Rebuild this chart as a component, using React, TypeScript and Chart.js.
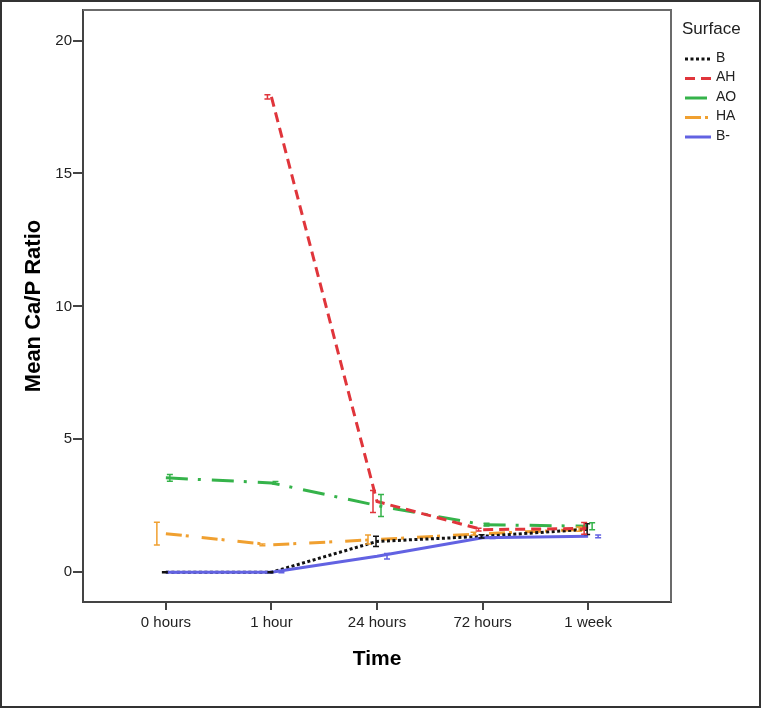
import React, { useEffect, useRef } from "react";
import { Chart, registerables } from "chart.js";

Chart.register(...registerables);

const categories = ["0 hours", "1 hour", "24 hours", "72 hours", "1 week"];
const yTicks = [0, 5, 10, 15, 20];

const seriesNames = ["B", "AH", "AO", "HA", "B-"];
const valuesB = [0, 0, 1.16, 1.35, 1.62];
const errorsB = [0.02, 0.02, 0.19, 0.06, 0.2];
const valuesAH = [null, 17.88, 2.66, 1.6, 1.65];
const errorsAH = [null, 0.08, 0.41, 0.05, 0.22];
const valuesAO = [3.55, 3.36, 2.51, 1.79, 1.73];
const errorsAO = [0.13, 0.05, 0.41, 0.05, 0.13];
const valuesHA = [1.45, 1.03, 1.23, 1.45, 1.62];
const errorsHA = [0.43, 0.03, 0.17, 0.05, 0.08];
const valuesBminus = [0, 0, 0.6, 1.3, 1.35];
const errorsBminus = [0.02, 0.02, 0.1, 0.03, 0.05];

const FONT = "'Liberation Sans', Arial, sans-serif";

const styles = [
  { color: "#111111", dash: [3, 2.5], errOffset: -1, order: 2 },
  { color: "#e0353b", dash: [10, 6], errOffset: -4, order: 1 },
  { color: "#35b34a", dash: [22, 10, 3, 11], errOffset: 4, order: 4 },
  { color: "#f0a030", dash: [16, 4, 3, 13], errOffset: -9, order: 3 },
  { color: "#6262e2", dash: [], errOffset: 10, order: 0 },
];

const allValues = [valuesB, valuesAH, valuesAO, valuesHA, valuesBminus];
const allErrors = [errorsB, errorsAH, errorsAO, errorsHA, errorsBminus];

const errorBarPlugin = {
  id: "errorBars",
  afterDatasetsDraw(chart: any) {
    const ctx = chart.ctx;
    const xs = chart.scales.x;
    const ys = chart.scales.y;
    ctx.save();
    chart.data.datasets.forEach((ds: any) => {
      const errs = ds.errors as (number | null)[];
      ctx.strokeStyle = ds.borderColor;
      ctx.lineWidth = 1.5;
      ctx.setLineDash([]);
      ds.data.forEach((pt: any, i: number) => {
        if (pt.y === null || errs[i] === null) return;
        const x = xs.getPixelForValue(pt.x) + ds.errOffset;
        const y1 = ys.getPixelForValue(pt.y + (errs[i] as number));
        const y2 = ys.getPixelForValue(pt.y - (errs[i] as number));
        ctx.beginPath();
        ctx.moveTo(x, y1);
        ctx.lineTo(x, y2);
        ctx.moveTo(x - 3, y1);
        ctx.lineTo(x + 3, y1);
        ctx.moveTo(x - 3, y2);
        ctx.lineTo(x + 3, y2);
        ctx.stroke();
      });
    });
    ctx.restore();
  },
};

const framePlugin = {
  id: "frame",
  beforeDraw(chart: any) {
    const ctx = chart.ctx;
    ctx.save();
    ctx.fillStyle = "#ffffff";
    ctx.fillRect(0, 0, chart.width, chart.height);
    ctx.restore();
  },
  afterDraw(chart: any) {
    const ctx = chart.ctx;
    const a = chart.chartArea;
    ctx.save();
    ctx.setLineDash([]);
    // plot frame top & right
    ctx.strokeStyle = "#6b6b6b";
    ctx.lineWidth = 2;
    ctx.beginPath();
    ctx.moveTo(a.left, a.top);
    ctx.lineTo(a.right, a.top);
    ctx.lineTo(a.right, a.bottom);
    ctx.stroke();
    // outer border
    ctx.strokeStyle = "#333333";
    ctx.lineWidth = 2;
    ctx.strokeRect(1, 1, chart.width - 2, chart.height - 2);

    // legend
    const tx = a.right + 11;
    ctx.fillStyle = "#222222";
    ctx.font = `17px ${FONT}`;
    ctx.textBaseline = "middle";
    ctx.textAlign = "left";
    ctx.fillText("Surface", tx, 29);
    ctx.font = `14px ${FONT}`;
    chart.data.datasets.forEach((ds: any, i: number) => {
      const y = 58 + i * 19.5;
      ctx.strokeStyle = ds.borderColor;
      ctx.lineWidth = 3;
      ctx.setLineDash(ds.borderDash || []);
      ctx.beginPath();
      ctx.moveTo(a.right + 14, y + 1);
      ctx.lineTo(a.right + 40, y + 1);
      ctx.stroke();
      ctx.setLineDash([]);
      ctx.fillStyle = "#222222";
      ctx.fillText(ds.label, a.right + 45, y);
    });
    ctx.restore();
  },
};

export default function App() {
  const ref = useRef<HTMLCanvasElement | null>(null);

  useEffect(() => {
    if (!ref.current) return;
    const datasets = seriesNames.map((name, s) => ({
      label: name,
      data: allValues[s].map((v, i) => ({ x: i, y: v })),
      errors: allErrors[s],
      errOffset: styles[s].errOffset,
      order: styles[s].order,
      borderColor: styles[s].color,
      backgroundColor: styles[s].color,
      borderDash: styles[s].dash,
      borderWidth: 3,
      borderCapStyle: "butt",
      pointRadius: 0,
      pointHoverRadius: 0,
      tension: 0,
      spanGaps: false,
      fill: false,
    }));

    const chart = new Chart(ref.current, {
      type: "line",
      data: { datasets: datasets as any },
      plugins: [framePlugin, errorBarPlugin],
      options: {
        animation: false,
        responsive: false,
        events: [],
        layout: { padding: { top: 9, right: 90, left: 0, bottom: 0 } },
        plugins: {
          legend: { display: false },
          tooltip: { enabled: false },
        },
        scales: {
          x: {
            type: "linear",
            min: -0.785,
            max: 4.785,
            afterBuildTicks: (scale: any) => {
              scale.ticks = categories.map((_, i) => ({ value: i }));
            },
            afterFit: (scale: any) => {
              scale.height = 106;
            },
            ticks: {
              callback: (v: any) => categories[v] ?? "",
              font: { family: FONT, size: 15 },
              color: "#222222",
              padding: 4,
              maxRotation: 0,
              autoSkip: false,
            },
            grid: {
              drawOnChartArea: false,
              drawTicks: true,
              tickLength: 8,
              color: "#444444",
              lineWidth: 2,
            },
            border: { display: true, color: "#444444", width: 2 },
            title: {
              display: true,
              text: "Time",
              font: { family: FONT, size: 21, weight: "bold" },
              color: "#000000",
              padding: { top: 0, bottom: 36 },
            },
          },
          y: {
            type: "linear",
            min: -1.12,
            max: 21.15,
            afterBuildTicks: (scale: any) => {
              scale.ticks = yTicks.map((v) => ({ value: v }));
            },
            afterFit: (scale: any) => {
              scale.width = 83;
            },
            ticks: {
              font: { family: FONT, size: 15 },
              color: "#222222",
              padding: 1,
            },
            grid: {
              drawOnChartArea: false,
              drawTicks: true,
              tickLength: 10,
              color: "#444444",
              lineWidth: 2,
            },
            border: { display: true, color: "#444444", width: 2 },
            title: {
              display: true,
              text: "Mean Ca/P Ratio",
              font: { family: FONT, size: 22, weight: "bold" },
              color: "#000000",
              padding: { top: 21, bottom: 0 },
            },
          },
        },
      },
    });
    return () => chart.destroy();
  }, []);

  return (
    <div style={{ position: "absolute", left: 0, top: 0, width: 761, height: 708, background: "#fff" }}>
      <canvas ref={ref} width={761} height={708} style={{ display: "block", width: 761, height: 708 }} />
    </div>
  );
}
